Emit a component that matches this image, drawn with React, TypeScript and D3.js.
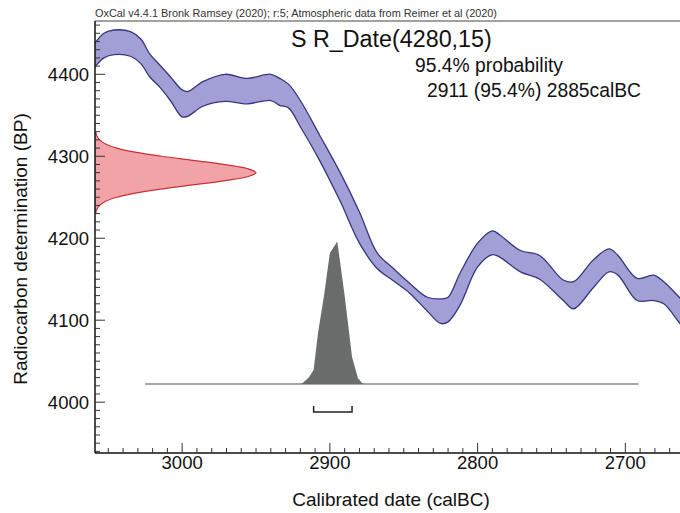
import React from "react";
import * as d3 from "d3";

// Calibration curve (IntCal20) band: calBC year, upper BP, lower BP
const curveYears = [3062, 3059, 3053, 3046, 3035, 3028, 3022, 3015, 3008, 3000, 2996, 2986, 2971, 2956, 2940, 2934, 2928, 2920, 2907, 2893, 2880, 2868, 2857, 2846, 2834, 2825, 2820, 2812, 2800, 2790, 2785, 2771, 2758, 2742, 2735, 2722, 2711, 2705, 2692, 2681, 2674, 2663, 2655];
const curveUpper = [4430, 4438, 4450, 4454, 4452, 4443, 4425, 4411, 4397, 4381, 4379, 4391, 4400, 4395, 4400, 4395, 4388, 4368, 4326, 4280, 4232, 4182, 4163, 4145, 4128, 4126, 4128, 4157, 4194, 4209, 4204, 4185, 4179, 4149, 4147, 4173, 4187, 4179, 4151, 4155, 4147, 4127, 4110];
const curveLower = [4402, 4409, 4420, 4424, 4422, 4413, 4397, 4384, 4368, 4348, 4349, 4361, 4367, 4364, 4368, 4362, 4359, 4336, 4295, 4245, 4194, 4163, 4148, 4133, 4111, 4096, 4098, 4118, 4165, 4180, 4177, 4159, 4150, 4124, 4114, 4139, 4159, 4155, 4124, 4124, 4120, 4096, 4080];

// Radiocarbon measurement distribution (BP, relative probability)
const dateBP = [4330, 4325, 4320, 4315, 4310, 4305, 4300, 4295, 4290, 4285, 4280, 4275, 4270, 4265, 4260, 4255, 4250, 4245, 4240, 4235, 4230];
const dateProb = [0.004, 0.011, 0.029, 0.066, 0.135, 0.249, 0.411, 0.607, 0.8, 0.946, 1, 0.946, 0.8, 0.607, 0.411, 0.249, 0.135, 0.066, 0.029, 0.011, 0.004];

// Calibrated distribution (calBC, relative probability)
const calYears = [3025, 2920, 2918, 2914, 2911, 2908, 2904, 2900, 2895, 2890, 2885, 2881, 2878, 2876, 2691];
const calProb = [0, 0, 0.01, 0.05, 0.1, 0.36, 0.62, 0.92, 1, 0.62, 0.19, 0.04, 0.005, 0, 0];

// 95.4% range
const rangeFrom = 2911;
const rangeTo = 2885;

const xTicks = [3000, 2900, 2800, 2700];
const yTicks = [4000, 4100, 4200, 4300, 4400];

const W = 680;
const H = 513;
const left = 95;
const top = 21;
const bottom = 453;
const right = 680;

const FONT = "'Liberation Sans', Arial, sans-serif";

export default function App() {
  const x = d3.scaleLinear().domain([3059, 2663]).range([left, right]);
  const y = d3.scaleLinear().domain([3938, 4465]).range([bottom, top]);

  const band = d3
    .area<number>()
    .x((_, i) => x(curveYears[i]))
    .y0((_, i) => y(curveLower[i]))
    .y1((_, i) => y(curveUpper[i]))
    .curve(d3.curveCatmullRom.alpha(0.5));
  const upperLine = d3
    .line<number>()
    .x((_, i) => x(curveYears[i]))
    .y((_, i) => y(curveUpper[i]))
    .curve(d3.curveCatmullRom.alpha(0.5));
  const lowerLine = d3
    .line<number>()
    .x((_, i) => x(curveYears[i]))
    .y((_, i) => y(curveLower[i]))
    .curve(d3.curveCatmullRom.alpha(0.5));

  // measurement on y axis
  const probX = d3.scaleLinear().domain([0, 1]).range([left, 256]);
  const dateArea = d3
    .area<number>()
    .y((_, i) => y(dateBP[i]))
    .x0(() => probX(0))
    .x1((p) => probX(p))
    .curve(d3.curveCatmullRom.alpha(0.5));
  const dateLine = d3
    .line<number>()
    .y((_, i) => y(dateBP[i]))
    .x((p) => probX(p))
    .curve(d3.curveCatmullRom.alpha(0.5));

  // calibrated distribution
  const baseY = 384;
  const calY = d3.scaleLinear().domain([0, 1]).range([baseY, 241.5]);
  const calArea = d3
    .area<number>()
    .x((_, i) => x(calYears[i]))
    .y0(baseY)
    .y1((p) => calY(p));

  const xMinor = d3.range(3050, 2660, -10);
  const yMinor = d3.range(3940, 4470, 10);

  const bx0 = x(rangeFrom);
  const bx1 = x(rangeTo);
  const by = 412;

  return (
    <svg width={W} height={H} style={{ position: "absolute", left: 0, top: 0, background: "#fff" }}>
      <defs>
        <clipPath id="plotclip">
          <rect x={left} y={top} width={right - left} height={bottom - top} />
        </clipPath>
      </defs>
      <rect x={0} y={0} width={W} height={H} fill="#fff" />

      <text x={left} y={17} fontFamily={FONT} fontSize={10.5} fill="#333" textLength={402} lengthAdjust="spacingAndGlyphs">
        OxCal v4.4.1 Bronk Ramsey (2020); r:5; Atmospheric data from Reimer et al (2020)
      </text>

      <g clipPath="url(#plotclip)">
        <path d={band(curveYears) || ""} fill="#a19fd6" stroke="none" />
        <path d={upperLine(curveYears) || ""} fill="none" stroke="#36367e" strokeWidth={1.3} />
        <path d={lowerLine(curveYears) || ""} fill="none" stroke="#36367e" strokeWidth={1.3} />

        <path d={dateArea(dateProb) || ""} fill="#f2a3a8" stroke="none" />
        <path d={dateLine(dateProb) || ""} fill="none" stroke="#c83038" strokeWidth={1.2} />

        <line x1={x(calYears[0])} x2={x(calYears[calYears.length - 1])} y1={baseY} y2={baseY} stroke="#8a8a8a" strokeWidth={1.3} />
        <path d={calArea(calProb) || ""} fill="#6b6d6d" stroke="none" />
      </g>

      {/* range bracket */}
      <path d={`M${bx0},${by - 6}V${by}H${bx1}V${by - 6}`} fill="none" stroke="#222" strokeWidth={1.5} />

      {/* frame */}
      <line x1={left} x2={right} y1={top} y2={top} stroke="#444" strokeWidth={1} />
      <line x1={left} x2={left} y1={top} y2={bottom} stroke="#111" strokeWidth={1.5} />
      <line x1={left} x2={right} y1={bottom} y2={bottom} stroke="#111" strokeWidth={1.5} />

      {/* x ticks */}
      {xMinor.map((v) => (
        <line key={"xm" + v} x1={x(v)} x2={x(v)} y1={bottom} y2={bottom - (v % 100 === 0 ? 10 : 5)} stroke="#333" strokeWidth={1} />
      ))}
      {xTicks.map((v) => (
        <text key={"xt" + v} x={x(v)} y={469} textAnchor="middle" fontFamily={FONT} fontSize={18.5} fill="#111">
          {v}
        </text>
      ))}

      {/* y ticks */}
      {yMinor.map((v) => (
        <line key={"ym" + v} x1={left} x2={left + (v % 100 === 0 ? 10 : 5)} y1={y(v)} y2={y(v)} stroke="#333" strokeWidth={1} />
      ))}
      {yTicks.map((v) => (
        <text key={"yt" + v} x={89} y={y(v) + 6.5} textAnchor="end" fontFamily={FONT} fontSize={18.5} fill="#111">
          {v}
        </text>
      ))}

      {/* axis titles */}
      <text x={391} y={506} textAnchor="middle" fontFamily={FONT} fontSize={19} fill="#111">
        Calibrated date (calBC)
      </text>
      <text transform="translate(27,249) rotate(-90)" textAnchor="middle" fontFamily={FONT} fontSize={19} fill="#111">
        Radiocarbon determination (BP)
      </text>

      {/* annotations */}
      <text x={291} y={47} fontFamily={FONT} fontSize={23.3} fill="#111">
        S R_Date(4280,15)
      </text>
      <text x={415} y={72} fontFamily={FONT} fontSize={19.3} fill="#111">
        95.4% probability
      </text>
      <text x={427} y={97} fontFamily={FONT} fontSize={19.3} fill="#111">
        2911 (95.4%) 2885calBC
      </text>
    </svg>
  );
}
